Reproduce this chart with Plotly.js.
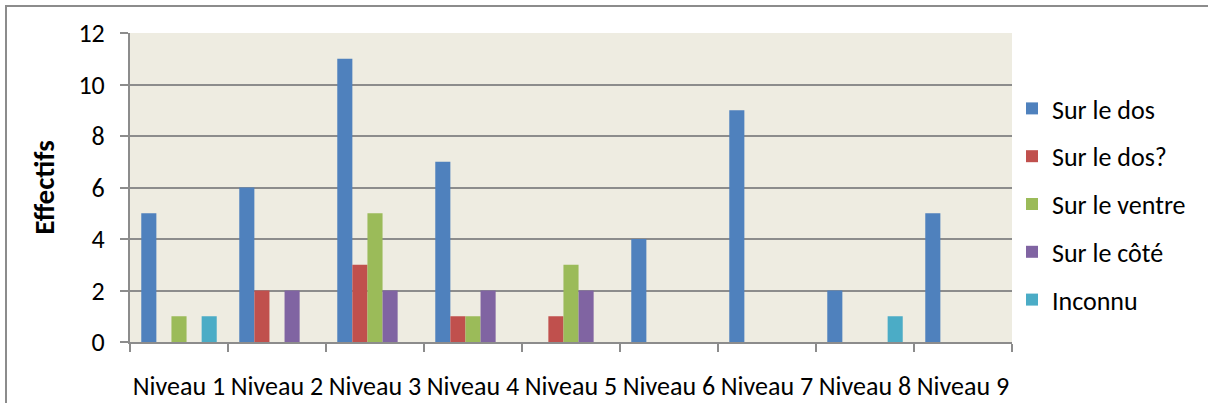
<!DOCTYPE html>
<html>
<head>
<meta charset="utf-8">
<script src="https://cdn.plot.ly/plotly-3.0.1.min.js"></script>
<style>
  html, body { margin: 0; padding: 0; background: #fff; }
  #wrap { position: relative; width: 1208px; height: 403px; overflow: hidden; }
  #chart { position: absolute; left: 0; top: 0; width: 1208px; height: 403px; }
  #frame { position: absolute; left: 5px; top: 5px; width: 1220px; height: 420px;
           border: 2px solid #8c8c8c; box-sizing: border-box; pointer-events: none; }
</style>
</head>
<body>
<div id="wrap">
  <div id="chart"></div>
  <div id="frame"></div>
</div>
<script>
// Categories and counts per sleeping position
const niveaux = ['Niveau 1', 'Niveau 2', 'Niveau 3', 'Niveau 4', 'Niveau 5',
                 'Niveau 6', 'Niveau 7', 'Niveau 8', 'Niveau 9'];
const surLeDos       = [5, 6, 11, 7, 0, 4, 9, 2, 5];
const surLeDosDoute  = [0, 2, 3, 1, 1, 0, 0, 0, 0];
const surLeVentre    = [1, 0, 5, 1, 3, 0, 0, 0, 0];
const surLeCote      = [0, 2, 2, 2, 2, 0, 0, 0, 0];
const inconnu        = [1, 0, 0, 0, 0, 0, 0, 1, 0];
const yTicks = [0, 2, 4, 6, 8, 10, 12];

const series = [
  { name: 'Sur le dos',    y: surLeDos,      color: '#4F81BD' },
  { name: 'Sur le dos?',   y: surLeDosDoute, color: '#C0504D' },
  { name: 'Sur le ventre', y: surLeVentre,   color: '#9BBB59' },
  { name: 'Sur le côté',   y: surLeCote,     color: '#8064A2' },
  { name: 'Inconnu',       y: inconnu,       color: '#4BACC6' }
];

const font = 'Calibri, Carlito, "Open Sans", "Noto Sans", sans-serif';

const traces = series.map((s, i) => ({
  type: 'bar',
  name: s.name,
  x: niveaux,
  y: s.y,
  legendgroup: 'g' + i,
  marker: { color: s.color, line: { width: 0 } },
  hoverinfo: 'x+y+name'
}));

const layout = {
  width: 1208,
  height: 403,
  margin: { l: 130, r: 196, t: 33, b: 61 },
  paper_bgcolor: 'rgba(0,0,0,0)',
  plot_bgcolor: '#EEECE1',
  font: { family: font, size: 26, color: '#000' },
  barmode: 'group',
  bargap: 0.23,
  bargroupgap: 0,
  showlegend: true,
  legend: {
    x: 1.0, xanchor: 'left',
    y: 0.445, yanchor: 'middle',
    traceorder: 'grouped',
    tracegroupgap: 11,
    font: { family: font, size: 26, color: '#000' },
    itemwidth: 30
  },
  xaxis: {
    type: 'category',
    showgrid: false,
    showline: true,
    linecolor: '#8c8c8c',
    linewidth: 2,
    ticks: 'outside',
    tickson: 'boundaries',
    ticklen: 8,
    tickwidth: 2,
    tickcolor: '#8c8c8c',
    tickangle: 0,
    ticklabelstandoff: 20,
    tickfont: { family: font, size: 26, color: '#000' }
  },
  yaxis: {
    range: [0, 12],
    tickvals: yTicks,
    ticktext: yTicks.map(String),
    showgrid: true,
    gridcolor: '#8c8c8c',
    gridwidth: 2,
    zeroline: false,
    showline: true,
    linecolor: '#8c8c8c',
    linewidth: 2,
    ticks: 'outside',
    ticklen: 8,
    tickwidth: 2,
    tickcolor: '#8c8c8c',
    ticklabelstandoff: 10,
    tickfont: { family: font, size: 26, color: '#000' },
    title: {
      text: '<b>Effectifs</b>',
      font: { family: font, size: 29, color: '#000' },
      standoff: 15
    }
  }
};

Plotly.newPlot('chart', traces, layout, { displayModeBar: false, staticPlot: true });
</script>
</body>
</html>
